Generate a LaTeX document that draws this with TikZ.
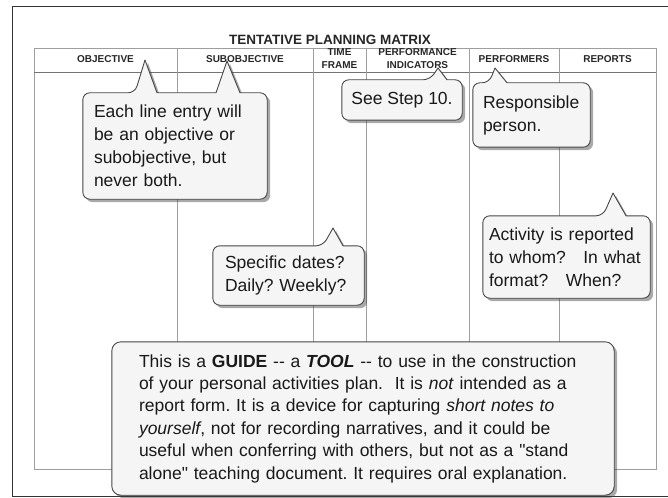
\documentclass[tikz,border=0pt]{standalone}
\usepackage{fontspec}
\setmainfont{Liberation Sans}[Ligatures=TeXOff]
\usetikzlibrary{backgrounds,shadows}
\frenchspacing

\newcommand{\notesize}{\fontsize{17.5}{23}\selectfont}

\tikzset{
  gridline/.style={black!38, line width=0.6pt},
  colhead/.style={font=\bfseries\fontsize{10}{12.5}\selectfont, align=center, text=black!85, inner sep=0pt},
  note/.style={align=left, inner sep=0pt, text=black!90, font=\notesize},
  balloon/.style={draw=black!72, fill=black!4, line width=0.9pt, line join=round,
    drop shadow={shadow xshift=3pt, shadow yshift=-3pt, opacity=0.45, fill=black!75}},
}

\begin{document}
\begin{tikzpicture}[x=1pt, y=-1pt]
  \useasboundingbox (0,0) rectangle (668,497);
  \begin{scope}[on background layer]
    % page frame, open at the right, and the empty matrix
    \draw[black!80, line width=1pt] (668,7) -- (12,7) -- (12,496) -- (668,496);
    \draw[gridline] (34,48) rectangle (656,469);
    \draw[gridline, black!55] (34,72) -- (656,72);
    \foreach \xx in {177,313,366,469,559}
      \draw[gridline] (\xx,48) -- (\xx,469);
  \end{scope}
  \node[font=\bfseries\fontsize{13.5}{15}\selectfont, text=black!85] (title) at (330,40) {TENTATIVE PLANNING MATRIX};
  \foreach \xx/\yy/\lbl/\name in {105.5/59.5/OBJECTIVE/obj, 245/59.5/SUBOBJECTIVE/sub, 339.5/58.5/{TIME\\FRAME}/time,
      417.5/58.5/{PERFORMANCE\\INDICATORS}/perf, 514/59.5/PERFORMERS/who, 607.5/59.5/REPORTS/rep}
    \node[colhead] (h-\name) at (\xx,\yy) {\lbl};

  % where the balloons point
  \coordinate (objTip) at (145,60);
  \coordinate (subTip) at (227,61);
  \coordinate (perfTip) at (438,68);
  \coordinate (whoTip) at (495,68);
  \coordinate (timeTip) at (333,228);
  \coordinate (repTip) at (613,193);

  \node[note, minimum width=184pt, minimum height=106pt, text width=162pt] (entryNote) at (175,146)
    {Each line entry will\\be an objective or\\subobjective, but\\never both.};
  \node[note, align=center, minimum width=120pt, minimum height=40pt] (stepNote) at (402,100) {See Step 10.};
  \node[note, minimum width=117pt, minimum height=64pt, text width=97pt] (personNote) at (531.5,115)
    {Responsible\\person.};
  \node[note, minimum width=151pt, minimum height=59pt, text width=127pt] (datesNote) at (288.5,275.5)
    {Specific dates?\\Daily? Weekly?};
  \node[note, minimum width=167pt, minimum height=82pt, text width=155pt] (reportNote) at (566.5,257)
    {Activity is reported\\to whom?\ \ \ In what\\format?\ \ \ When?};
  \node[note, font=\fontsize{17.5}{22.4}\selectfont, minimum width=502pt, minimum height=153pt, text width=448pt] (guideNote) at (363,418.5)
    {This is a \textbf{GUIDE} -- a \textbf{\textit{TOOL}} -- to use in the construction\\
     of your personal activities plan.\ \ It is \textit{not} intended as a\\
     report form. It is a device for capturing \textit{short notes to}\\
     \textit{yourself}, not for recording narratives, and it could be\\
     useful when conferring with others, but not as a "stand\\
     alone" teaching document. It requires oral explanation.};

  \begin{scope}[on background layer]
    % balloon outlines behind the texts
    \draw[balloon] (157,0 |- entryNote.north) -- (216,0 |- entryNote.north) [sharp corners] -- (subTip)
      -- (240,0 |- entryNote.north) [rounded corners=7pt] -- (entryNote.north east) -- (entryNote.south east)
      -- (entryNote.south west) -- (entryNote.north west) -- (135,0 |- entryNote.north) [sharp corners] -- (objTip) -- cycle;
    \draw[balloon] (447,0 |- stepNote.north) [rounded corners=7pt] -- (stepNote.north east) -- (stepNote.south east)
      -- (stepNote.south west) -- (stepNote.north west) -- (430,0 |- stepNote.north) [sharp corners] -- (perfTip) -- cycle;
    \draw[balloon] (507,0 |- personNote.north) [rounded corners=7pt] -- (personNote.north east) -- (personNote.south east)
      -- (personNote.south west) -- (personNote.north west) -- (489,0 |- personNote.north) [sharp corners] -- (whoTip) -- cycle;
    \draw[balloon] (343,0 |- datesNote.north) [rounded corners=7pt] -- (datesNote.north east) -- (datesNote.south east)
      -- (datesNote.south west) -- (datesNote.north west) -- (323,0 |- datesNote.north) [sharp corners] -- (timeTip) -- cycle;
    \draw[balloon] (626,0 |- reportNote.north) [rounded corners=7pt] -- (reportNote.north east) -- (reportNote.south east)
      -- (reportNote.south west) -- (reportNote.north west) -- (603,0 |- reportNote.north) [sharp corners] -- (repTip) -- cycle;
    \draw[balloon, rounded corners=9pt] (guideNote.north west) rectangle (guideNote.south east);
  \end{scope}
\end{tikzpicture}
\end{document}
